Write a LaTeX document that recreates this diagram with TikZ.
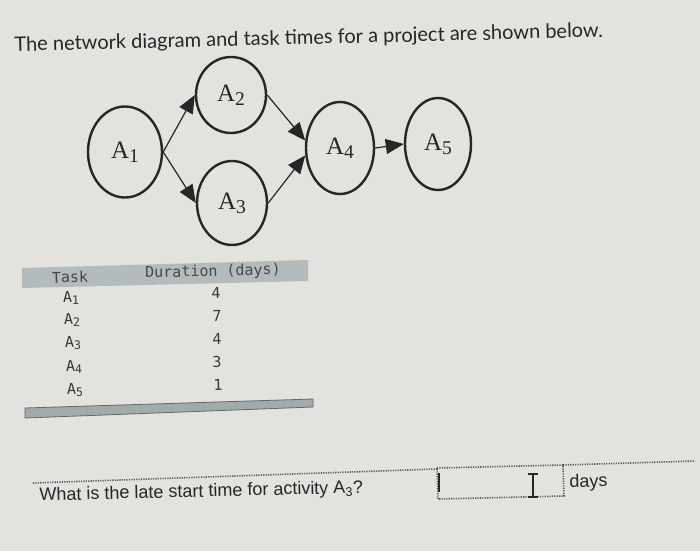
\documentclass[tikz,border=0pt]{standalone}
\usepackage{fontspec}
\setmainfont{Liberation Serif}
\newfontfamily\titlefont{Lato}
\newfontfamily\qfont{Liberation Sans}
\newfontfamily\monofont{DejaVu Sans Mono}
\usetikzlibrary{shapes.geometric,arrows.meta}
\newcommand\mysub[1]{\raisebox{-0.35ex}{\scalebox{0.78}{#1}}}
\definecolor{bg}{HTML}{E2E2DF}
\definecolor{band}{HTML}{B3BBBC}
\definecolor{bar}{HTML}{A2ABAC}
\definecolor{ink}{HTML}{262626}
\definecolor{tabink}{HTML}{383838}
\begin{document}
\begin{tikzpicture}[x=1pt,y=-1pt,
 act/.style={ellipse,draw=ink,line width=2.4pt,inner sep=0pt,font=\fontsize{25}{28}\selectfont,text=ink},
 link/.style={draw=ink,line width=1.2pt,-{Triangle[length=18pt,width=15pt]}},
 tilt/.style={rotate=1.4},
 cell/.style={tilt,font=\monofont\fontsize{15}{17}\selectfont,text=tabink},
 dots/.style={draw=gray!70!black,line width=1.6pt,dash pattern=on 1.2pt off 1.2pt}
]
\fill[bg] (0,0) rectangle (700,551);
\useasboundingbox (0,0) rectangle (700,551);

\node[tilt,anchor=west,font=\titlefont\fontsize{20}{23}\selectfont,text=ink] (title) at (11,46) {The network diagram and task times for a project are shown below.};

\node[act,minimum width=74pt,minimum height=91pt] (A1) at (125,152) {A\mysub{1}};
\node[act,minimum width=70pt,minimum height=76pt] (A2) at (231,95) {A\mysub{2}};
\node[act,minimum width=70pt,minimum height=84pt] (A3) at (232,203) {A\mysub{3}};
\node[act,minimum width=68pt,minimum height=92pt] (A4) at (340,148) {A\mysub{4}};
\node[act,minimum width=66pt,minimum height=92pt] (A5) at (438,144) {A\mysub{5}};

\draw[link] (A1.east) -- (A2.west);
\draw[link] (A1.east) -- (A3.west);
\draw[link] (A2.east) -- (A4.168);
\draw[link] (A3.east) -- (A4.192);
\draw[link] (A4.east) -- (A5.west);

\fill[band] (22,268) -- (308,260) -- (308,281) -- (22,288) -- cycle;
\node[cell,text=ink!85] (th1) at (70,277) {Task};
\node[cell,text=ink!85] (th2) at (213,272) {Duration (days)};
\node[cell] (t1) at (71,298) {A\mysub{1}};
\node[cell] (t2) at (72,320) {A\mysub{2}};
\node[cell] (t3) at (73,343) {A\mysub{3}};
\node[cell] (t4) at (74,367) {A\mysub{4}};
\node[cell] (t5) at (75,390) {A\mysub{5}};
\node[cell] (d1) at (216,293) {4};
\node[cell] (d2) at (217,316) {7};
\node[cell] (d3) at (217,339) {4};
\node[cell] (d4) at (217,362) {3};
\node[cell] (d5) at (218,385) {1};
\filldraw[fill=bar,draw=gray!80!black,line width=0.8pt] (25,408) -- (313,399) -- (313,407) -- (25,418) -- cycle;

\draw[dots] (33,483) -- (437,469);
\draw[dots] (437,468) -- (563,465) -- (564,496) -- (438,499) -- cycle;
\draw[dots] (563,465) -- (695,461);
\node[tilt,anchor=base west,font=\qfont\fontsize{18}{20}\selectfont,text=ink] (q) at (36,501) {What is the late start time for activity A\textsubscript{3}?};
\node[tilt,anchor=west,font=\qfont\fontsize{18}{20}\selectfont,text=ink] (days) at (566,483) {days};
\draw[ink,line width=2.5pt] (439,473) -- (439,492);
\draw[ink,line width=1.4pt] (533,475) -- (533,496) (528,474) -- (538,474) (528,497) -- (538,497);
\end{tikzpicture}
\end{document}
